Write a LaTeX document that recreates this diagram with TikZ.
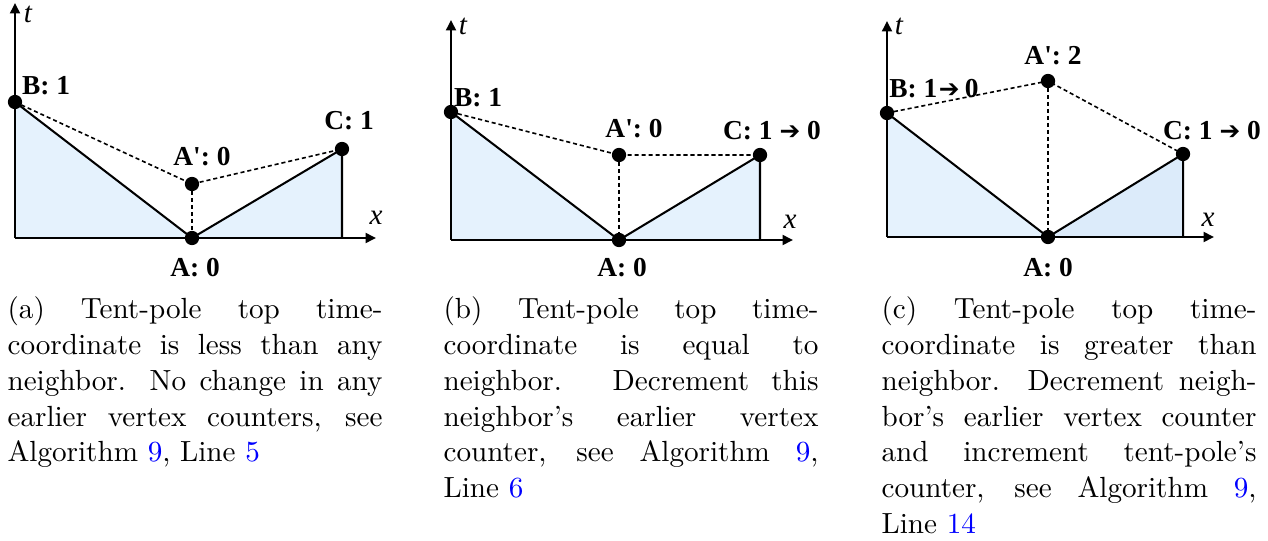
\documentclass[tikz,border=0pt]{standalone}
\usepackage{fontspec}
\usetikzlibrary{arrows.meta}
\newfontfamily\lblfont{Liberation Serif}
\newfontfamily\arrfont{DejaVu Sans}
\definecolor{fillA}{HTML}{E5F2FD}
\definecolor{fillB}{HTML}{DCEBFA}
\newcommand{\rarr}{{\arrfont\fontsize{8.5}{9}\selectfont ➔}}
\tikzset{
  dot/.style={circle,fill=black,minimum size=4.9pt,inner sep=0pt},
  lab/.style={font=\lblfont\bfseries\fontsize{9.4}{11}\selectfont,inner sep=0pt},
  axlab/.style={font=\lblfont\itshape\fontsize{10}{12}\selectfont,inner sep=0pt},
  axis/.style={line width=0.75pt,-{Triangle[length=3.6pt,width=3.4pt]}},
  edge/.style={line width=0.7pt},
  dsh/.style={line width=0.55pt,dash pattern=on 1.4pt off 1pt},
  captxt/.style={text width=128.6pt,align=justify,inner sep=0pt,anchor=north west,
    font=\fontsize{10}{12.3}\selectfont}
}
\begin{document}
\begin{tikzpicture}[x=0.343pt,y=-0.343pt]
\useasboundingbox (0,0) rectangle (1268,541);
% ---------- panel (a)
\coordinate (Oa) at (15,238);
\coordinate (Ta) at (15,3);
\coordinate (Xa) at (376,238);
\coordinate (Cfa) at (342,238);
\coordinate (pBa) at (15,102);
\coordinate (pAa) at (192,238);
\coordinate (pPa) at (192,184);
\coordinate (pCa) at (342,149);
\fill[fillA] (Oa) -- (pBa) -- (pAa) -- cycle;
\fill[fillA] (pAa) -- (pCa) -- (Cfa) -- cycle;
\draw[axis] (Oa) -- (Ta);
\draw[axis] (Oa) -- (Xa);
\draw[edge] (pBa) -- (pAa) -- (pCa) -- (Cfa);
\draw[dsh] (pBa) -- (pPa) -- (pCa);
\draw[dsh] (pPa) -- (pAa);
\node[dot] (Ba) at (pBa) {};
\node[dot] (Aa) at (pAa) {};
\node[dot] (Pa) at (pPa) {};
\node[dot] (Ca) at (pCa) {};
\node[lab] (lBa) at (46,86) {B: 1};
\node[lab] (lPa) at (202,157) {A': 0};
\node[lab] (lCa) at (349,121) {C: 1};
\node[lab] (lAa) at (195,268) {A: 0};
\node[axlab] (ta) at (28,14) {t};
\node[axlab] (xa) at (376,218) {x};
% ---------- panel (b)
\coordinate (Ob) at (451,240);
\coordinate (Tb) at (451,20);
\coordinate (Xb) at (793,240);
\coordinate (Cfb) at (760,240);
\coordinate (pBb) at (451,112);
\coordinate (pAb) at (619,240);
\coordinate (pPb) at (619,155);
\coordinate (pCb) at (760,155);
\fill[fillA] (Ob) -- (pBb) -- (pAb) -- cycle;
\fill[fillA] (pAb) -- (pCb) -- (Cfb) -- cycle;
\draw[axis] (Ob) -- (Tb);
\draw[axis] (Ob) -- (Xb);
\draw[edge] (pBb) -- (pAb) -- (pCb) -- (Cfb);
\draw[dsh] (pBb) -- (pPb) -- (pCb);
\draw[dsh] (pPb) -- (pAb);
\node[dot] (Bb) at (pBb) {};
\node[dot] (Ab) at (pAb) {};
\node[dot] (Pb) at (pPb) {};
\node[dot] (Cb) at (pCb) {};
\node[lab] (lBb) at (478,98) {B: 1};
\node[lab] (lPb) at (634,129) {A': 0};
\node[lab] (lCb) at (772,131) {C: 1 \rarr\ 0};
\node[lab] (lAb) at (622,268) {A: 0};
\node[axlab] (tb) at (463,26) {t};
\node[axlab] (xb) at (790,222) {x};
% ---------- panel (c)
\coordinate (Oc) at (887,237);
\coordinate (Tc) at (887,21);
\coordinate (Xc) at (1214,237);
\coordinate (Cfc) at (1183,237);
\coordinate (pBc) at (887,113);
\coordinate (pAc) at (1048,237);
\coordinate (pPc) at (1048,81);
\coordinate (pCc) at (1183,154);
\fill[fillA] (Oc) -- (pBc) -- (pAc) -- cycle;
\fill[fillB] (pAc) -- (pCc) -- (Cfc) -- cycle;
\draw[axis] (Oc) -- (Tc);
\draw[axis] (Oc) -- (Xc);
\draw[edge] (pBc) -- (pAc) -- (pCc) -- (Cfc);
\draw[dsh] (pBc) -- (pPc) -- (pCc);
\draw[dsh] (pPc) -- (pAc);
\node[dot] (Bc) at (pBc) {};
\node[dot] (Ac) at (pAc) {};
\node[dot] (Pc) at (pPc) {};
\node[dot] (Cc) at (pCc) {};
\node[lab] (lBc) at (934,89) {B: 1\kern0.5pt\rarr\kern1.8pt0};
\node[lab] (lPc) at (1053,56) {A': 2};
\node[lab] (lCc) at (1212,131) {C: 1 \rarr\ 0};
\node[lab] (lAc) at (1048,268) {A: 0};
\node[axlab] (tc) at (899,26) {t};
\node[axlab] (xc) at (1208,220) {x};
% ---------- captions
\node[captxt] (capa) at (7,296) {(a) Tent-pole top time-\linebreak coordinate is less than any\linebreak neighbor. No change in any\linebreak earlier vertex counters, see\linebreak Algorithm \textcolor{blue}{9}, Line \textcolor{blue}{5}};
\node[captxt] (capb) at (443,296) {(b) Tent-pole top time-\linebreak coordinate is equal to\linebreak neighbor. Decrement this\linebreak neighbor's earlier vertex\linebreak counter, see Algorithm \textcolor{blue}{9},\linebreak Line \textcolor{blue}{6}};
\node[captxt] (capc) at (881,296) {(c) Tent-pole top time-\linebreak coordinate is greater than\linebreak neighbor. Decrement neigh-\linebreak bor's earlier vertex counter\linebreak and increment tent-pole's\linebreak counter, see Algorithm \textcolor{blue}{9},\linebreak Line \textcolor{blue}{14}};
\end{tikzpicture}
\end{document}
